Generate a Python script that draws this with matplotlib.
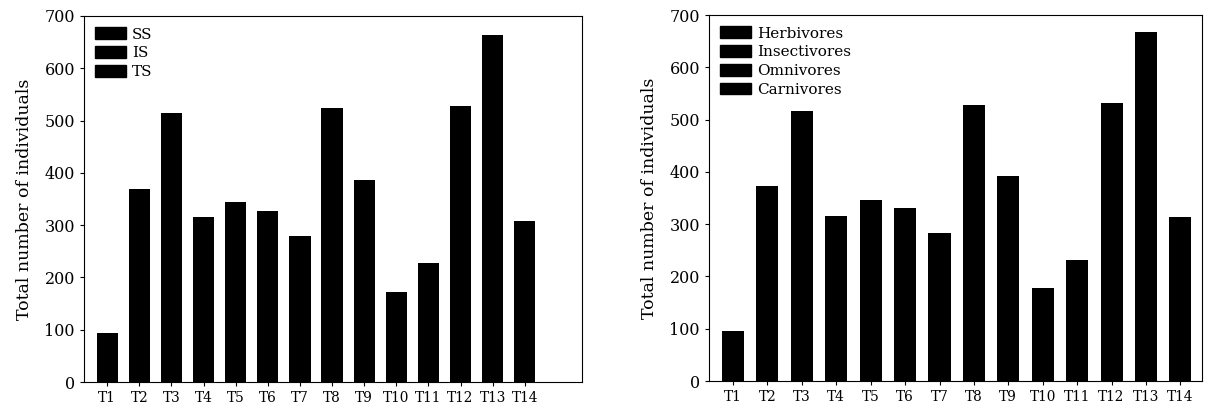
import matplotlib
matplotlib.use("Agg")
import matplotlib.pyplot as plt
from matplotlib.patches import Patch

labels = ["T1", "T2", "T3", "T4", "T5", "T6", "T7", "T8", "T9", "T10", "T11", "T12", "T13", "T14"]
left_vals = [94, 370, 515, 315, 345, 327, 280, 525, 387, 173, 228, 527, 664, 307]
right_vals = [95, 372, 517, 316, 347, 330, 283, 528, 392, 177, 232, 532, 668, 313]
left_legend = ["SS", "IS", "TS"]
right_legend = ["Herbivores", "Insectivores", "Omnivores", "Carnivores"]

plt.rcParams["font.family"] = ["DejaVu Serif"]

fig = plt.figure(figsize=(12.08, 4.11), dpi=100)
W, H = 1208, 411


def panel(rect, vals, names, xlim, width):
    ax = fig.add_axes([rect[0] / W, 1 - rect[3] / H, (rect[2] - rect[0]) / W, (rect[3] - rect[1]) / H])
    x = list(range(1, len(vals) + 1))
    ax.bar(x, vals, width=width, color="black")
    ax.set_xlim(*xlim)
    ax.set_ylim(0, 700)
    ax.set_yticks(range(0, 701, 100))
    ax.set_xticks(x)
    ax.set_xticklabels(labels, fontsize=9.8)
    ax.tick_params(axis="y", labelsize=11.5, length=3, direction="out")
    ax.tick_params(axis="x", length=3, direction="out")
    ax.set_ylabel("Total number of individuals", fontsize=12.5, labelpad=8)
    for s in ax.spines.values():
        s.set_linewidth(0.8)
    handles = [Patch(facecolor="black", edgecolor="black") for _ in names]
    ax.legend(handles, names, loc="upper left", frameon=False, fontsize=11,
              handlelength=2.0, handleheight=0.8, handletextpad=0.4,
              labelspacing=0.3, borderaxespad=0.35)
    return ax


panel((84, 16, 582, 382), left_vals, left_legend, (0.28, 15.78), 0.66)
panel((709, 15, 1202, 381), right_vals, right_legend, (0.30, 14.63), 0.64)

fig.savefig("out.png", dpi=100)
